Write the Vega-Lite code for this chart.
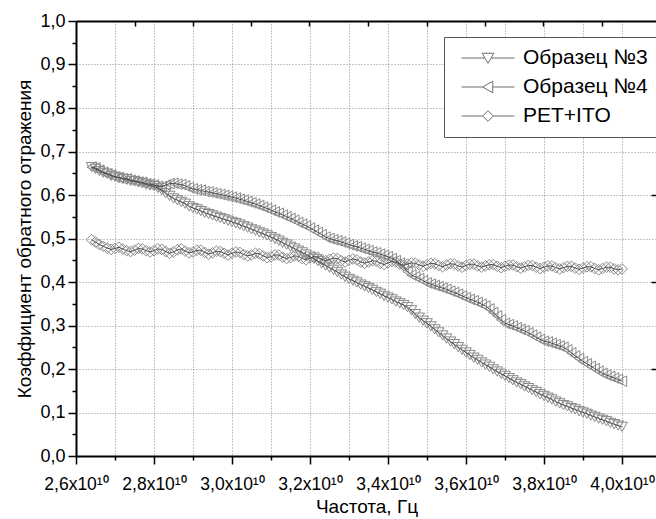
{
  "$schema": "https://vega.github.io/schema/vega-lite/v6.json",
  "autosize": {"type": "none"},
  "padding": {"left": 76, "top": 21, "right": 0, "bottom": 63},
  "width": 581,
  "height": 435,
  "config": {
    "view": {"stroke": null},
    "font": "Liberation Sans",
    "axis": {
      "labelFont": "Liberation Sans",
      "titleFont": "Liberation Sans",
      "labelColor": "black",
      "titleColor": "black",
      "titleFontWeight": "normal",
      "domainColor": "black",
      "tickColor": "black"
    }
  },
  "data": {
    "values": [
      {"f": 2.64e10, "Образец №3": 0.664, "Образец №4": 0.664, "PET+ITO": 0.497},
      {"f": 2.65e10, "Образец №3": 0.660, "Образец №4": 0.662, "PET+ITO": 0.492},
      {"f": 2.66e10, "Образец №3": 0.655, "Образец №4": 0.657, "PET+ITO": 0.486},
      {"f": 2.67e10, "Образец №3": 0.651, "Образец №4": 0.652, "PET+ITO": 0.482},
      {"f": 2.68e10, "Образец №3": 0.649, "Образец №4": 0.648, "PET+ITO": 0.478},
      {"f": 2.69e10, "Образец №3": 0.644, "Образец №4": 0.646, "PET+ITO": 0.475},
      {"f": 2.70e10, "Образец №3": 0.642, "Образец №4": 0.641, "PET+ITO": 0.477},
      {"f": 2.71e10, "Образец №3": 0.640, "Образец №4": 0.640, "PET+ITO": 0.480},
      {"f": 2.72e10, "Образец №3": 0.637, "Образец №4": 0.637, "PET+ITO": 0.476},
      {"f": 2.73e10, "Образец №3": 0.636, "Образец №4": 0.637, "PET+ITO": 0.472},
      {"f": 2.74e10, "Образец №3": 0.632, "Образец №4": 0.634, "PET+ITO": 0.470},
      {"f": 2.75e10, "Образец №3": 0.632, "Образец №4": 0.632, "PET+ITO": 0.473},
      {"f": 2.76e10, "Образец №3": 0.629, "Образец №4": 0.630, "PET+ITO": 0.477},
      {"f": 2.77e10, "Образец №3": 0.627, "Образец №4": 0.629, "PET+ITO": 0.476},
      {"f": 2.78e10, "Образец №3": 0.624, "Образец №4": 0.626, "PET+ITO": 0.472},
      {"f": 2.79e10, "Образец №3": 0.622, "Образец №4": 0.625, "PET+ITO": 0.469},
      {"f": 2.80e10, "Образец №3": 0.620, "Образец №4": 0.623, "PET+ITO": 0.472},
      {"f": 2.81e10, "Образец №3": 0.616, "Образец №4": 0.620, "PET+ITO": 0.476},
      {"f": 2.82e10, "Образец №3": 0.611, "Образец №4": 0.619, "PET+ITO": 0.475},
      {"f": 2.83e10, "Образец №3": 0.604, "Образец №4": 0.623, "PET+ITO": 0.470},
      {"f": 2.84e10, "Образец №3": 0.598, "Образец №4": 0.626, "PET+ITO": 0.466},
      {"f": 2.85e10, "Образец №3": 0.592, "Образец №4": 0.627, "PET+ITO": 0.469},
      {"f": 2.86e10, "Образец №3": 0.588, "Образец №4": 0.625, "PET+ITO": 0.474},
      {"f": 2.87e10, "Образец №3": 0.584, "Образец №4": 0.624, "PET+ITO": 0.476},
      {"f": 2.88e10, "Образец №3": 0.580, "Образец №4": 0.621, "PET+ITO": 0.471},
      {"f": 2.89e10, "Образец №3": 0.574, "Образец №4": 0.617, "PET+ITO": 0.467},
      {"f": 2.90e10, "Образец №3": 0.570, "Образец №4": 0.614, "PET+ITO": 0.469},
      {"f": 2.91e10, "Образец №3": 0.567, "Образец №4": 0.612, "PET+ITO": 0.473},
      {"f": 2.92e10, "Образец №3": 0.563, "Образец №4": 0.611, "PET+ITO": 0.473},
      {"f": 2.93e10, "Образец №3": 0.559, "Образец №4": 0.608, "PET+ITO": 0.468},
      {"f": 2.94e10, "Образец №3": 0.556, "Образец №4": 0.607, "PET+ITO": 0.464},
      {"f": 2.95e10, "Образец №3": 0.553, "Образец №4": 0.605, "PET+ITO": 0.467},
      {"f": 2.96e10, "Образец №3": 0.550, "Образец №4": 0.603, "PET+ITO": 0.471},
      {"f": 2.97e10, "Образец №3": 0.547, "Образец №4": 0.601, "PET+ITO": 0.470},
      {"f": 2.98e10, "Образец №3": 0.544, "Образец №4": 0.599, "PET+ITO": 0.466},
      {"f": 2.99e10, "Образец №3": 0.541, "Образец №4": 0.597, "PET+ITO": 0.462},
      {"f": 3.00e10, "Образец №3": 0.538, "Образец №4": 0.595, "PET+ITO": 0.466},
      {"f": 3.01e10, "Образец №3": 0.535, "Образец №4": 0.593, "PET+ITO": 0.469},
      {"f": 3.02e10, "Образец №3": 0.532, "Образец №4": 0.590, "PET+ITO": 0.468},
      {"f": 3.03e10, "Образец №3": 0.528, "Образец №4": 0.588, "PET+ITO": 0.463},
      {"f": 3.04e10, "Образец №3": 0.525, "Образец №4": 0.585, "PET+ITO": 0.460},
      {"f": 3.05e10, "Образец №3": 0.521, "Образец №4": 0.582, "PET+ITO": 0.462},
      {"f": 3.06e10, "Образец №3": 0.518, "Образец №4": 0.579, "PET+ITO": 0.466},
      {"f": 3.07e10, "Образец №3": 0.514, "Образец №4": 0.576, "PET+ITO": 0.465},
      {"f": 3.08e10, "Образец №3": 0.511, "Образец №4": 0.572, "PET+ITO": 0.460},
      {"f": 3.09e10, "Образец №3": 0.507, "Образец №4": 0.569, "PET+ITO": 0.456},
      {"f": 3.10e10, "Образец №3": 0.503, "Образец №4": 0.565, "PET+ITO": 0.458},
      {"f": 3.11e10, "Образец №3": 0.499, "Образец №4": 0.561, "PET+ITO": 0.462},
      {"f": 3.12e10, "Образец №3": 0.495, "Образец №4": 0.558, "PET+ITO": 0.462},
      {"f": 3.13e10, "Образец №3": 0.490, "Образец №4": 0.554, "PET+ITO": 0.457},
      {"f": 3.14e10, "Образец №3": 0.486, "Образец №4": 0.550, "PET+ITO": 0.454},
      {"f": 3.15e10, "Образец №3": 0.481, "Образец №4": 0.546, "PET+ITO": 0.456},
      {"f": 3.16e10, "Образец №3": 0.477, "Образец №4": 0.542, "PET+ITO": 0.460},
      {"f": 3.17e10, "Образец №3": 0.472, "Образец №4": 0.537, "PET+ITO": 0.459},
      {"f": 3.18e10, "Образец №3": 0.468, "Образец №4": 0.533, "PET+ITO": 0.454},
      {"f": 3.19e10, "Образец №3": 0.463, "Образец №4": 0.529, "PET+ITO": 0.451},
      {"f": 3.20e10, "Образец №3": 0.458, "Образец №4": 0.524, "PET+ITO": 0.455},
      {"f": 3.21e10, "Образец №3": 0.453, "Образец №4": 0.519, "PET+ITO": 0.458},
      {"f": 3.22e10, "Образец №3": 0.448, "Образец №4": 0.514, "PET+ITO": 0.457},
      {"f": 3.23e10, "Образец №3": 0.443, "Образец №4": 0.509, "PET+ITO": 0.452},
      {"f": 3.24e10, "Образец №3": 0.438, "Образец №4": 0.503, "PET+ITO": 0.449},
      {"f": 3.25e10, "Образец №3": 0.433, "Образец №4": 0.500, "PET+ITO": 0.452},
      {"f": 3.26e10, "Образец №3": 0.428, "Образец №4": 0.497, "PET+ITO": 0.455},
      {"f": 3.27e10, "Образец №3": 0.423, "Образец №4": 0.495, "PET+ITO": 0.454},
      {"f": 3.28e10, "Образец №3": 0.417, "Образец №4": 0.492, "PET+ITO": 0.449},
      {"f": 3.29e10, "Образец №3": 0.412, "Образец №4": 0.489, "PET+ITO": 0.446},
      {"f": 3.30e10, "Образец №3": 0.407, "Образец №4": 0.486, "PET+ITO": 0.450},
      {"f": 3.31e10, "Образец №3": 0.403, "Образец №4": 0.483, "PET+ITO": 0.453},
      {"f": 3.32e10, "Образец №3": 0.399, "Образец №4": 0.481, "PET+ITO": 0.451},
      {"f": 3.33e10, "Образец №3": 0.394, "Образец №4": 0.478, "PET+ITO": 0.446},
      {"f": 3.34e10, "Образец №3": 0.390, "Образец №4": 0.475, "PET+ITO": 0.443},
      {"f": 3.35e10, "Образец №3": 0.386, "Образец №4": 0.472, "PET+ITO": 0.446},
      {"f": 3.36e10, "Образец №3": 0.382, "Образец №4": 0.469, "PET+ITO": 0.449},
      {"f": 3.37e10, "Образец №3": 0.377, "Образец №4": 0.467, "PET+ITO": 0.448},
      {"f": 3.38e10, "Образец №3": 0.373, "Образец №4": 0.464, "PET+ITO": 0.443},
      {"f": 3.39e10, "Образец №3": 0.368, "Образец №4": 0.461, "PET+ITO": 0.440},
      {"f": 3.40e10, "Образец №3": 0.364, "Образец №4": 0.458, "PET+ITO": 0.444},
      {"f": 3.41e10, "Образец №3": 0.360, "Образец №4": 0.454, "PET+ITO": 0.447},
      {"f": 3.42e10, "Образец №3": 0.355, "Образец №4": 0.449, "PET+ITO": 0.446},
      {"f": 3.43e10, "Образец №3": 0.351, "Образец №4": 0.443, "PET+ITO": 0.441},
      {"f": 3.44e10, "Образец №3": 0.347, "Образец №4": 0.434, "PET+ITO": 0.438},
      {"f": 3.45e10, "Образец №3": 0.342, "Образец №4": 0.424, "PET+ITO": 0.441},
      {"f": 3.46e10, "Образец №3": 0.335, "Образец №4": 0.416, "PET+ITO": 0.444},
      {"f": 3.47e10, "Образец №3": 0.326, "Образец №4": 0.412, "PET+ITO": 0.443},
      {"f": 3.48e10, "Образец №3": 0.318, "Образец №4": 0.408, "PET+ITO": 0.439},
      {"f": 3.49e10, "Образец №3": 0.311, "Образец №4": 0.403, "PET+ITO": 0.436},
      {"f": 3.50e10, "Образец №3": 0.305, "Образец №4": 0.398, "PET+ITO": 0.440},
      {"f": 3.51e10, "Образец №3": 0.298, "Образец №4": 0.395, "PET+ITO": 0.443},
      {"f": 3.52e10, "Образец №3": 0.291, "Образец №4": 0.392, "PET+ITO": 0.442},
      {"f": 3.53e10, "Образец №3": 0.284, "Образец №4": 0.389, "PET+ITO": 0.438},
      {"f": 3.54e10, "Образец №3": 0.277, "Образец №4": 0.386, "PET+ITO": 0.435},
      {"f": 3.55e10, "Образец №3": 0.270, "Образец №4": 0.383, "PET+ITO": 0.439},
      {"f": 3.56e10, "Образец №3": 0.263, "Образец №4": 0.379, "PET+ITO": 0.442},
      {"f": 3.57e10, "Образец №3": 0.257, "Образец №4": 0.376, "PET+ITO": 0.441},
      {"f": 3.58e10, "Образец №3": 0.250, "Образец №4": 0.372, "PET+ITO": 0.437},
      {"f": 3.59e10, "Образец №3": 0.244, "Образец №4": 0.368, "PET+ITO": 0.434},
      {"f": 3.60e10, "Образец №3": 0.238, "Образец №4": 0.364, "PET+ITO": 0.438},
      {"f": 3.61e10, "Образец №3": 0.232, "Образец №4": 0.360, "PET+ITO": 0.441},
      {"f": 3.62e10, "Образец №3": 0.226, "Образец №4": 0.357, "PET+ITO": 0.441},
      {"f": 3.63e10, "Образец №3": 0.221, "Образец №4": 0.353, "PET+ITO": 0.437},
      {"f": 3.64e10, "Образец №3": 0.215, "Образец №4": 0.349, "PET+ITO": 0.434},
      {"f": 3.65e10, "Образец №3": 0.210, "Образец №4": 0.345, "PET+ITO": 0.437},
      {"f": 3.66e10, "Образец №3": 0.205, "Образец №4": 0.338, "PET+ITO": 0.440},
      {"f": 3.67e10, "Образец №3": 0.199, "Образец №4": 0.330, "PET+ITO": 0.440},
      {"f": 3.68e10, "Образец №3": 0.194, "Образец №4": 0.322, "PET+ITO": 0.436},
      {"f": 3.69e10, "Образец №3": 0.189, "Образец №4": 0.313, "PET+ITO": 0.433},
      {"f": 3.70e10, "Образец №3": 0.184, "Образец №4": 0.305, "PET+ITO": 0.436},
      {"f": 3.71e10, "Образец №3": 0.179, "Образец №4": 0.302, "PET+ITO": 0.439},
      {"f": 3.72e10, "Образец №3": 0.174, "Образец №4": 0.299, "PET+ITO": 0.439},
      {"f": 3.73e10, "Образец №3": 0.169, "Образец №4": 0.295, "PET+ITO": 0.435},
      {"f": 3.74e10, "Образец №3": 0.165, "Образец №4": 0.291, "PET+ITO": 0.432},
      {"f": 3.75e10, "Образец №3": 0.160, "Образец №4": 0.288, "PET+ITO": 0.435},
      {"f": 3.76e10, "Образец №3": 0.156, "Образец №4": 0.283, "PET+ITO": 0.438},
      {"f": 3.77e10, "Образец №3": 0.151, "Образец №4": 0.278, "PET+ITO": 0.438},
      {"f": 3.78e10, "Образец №3": 0.147, "Образец №4": 0.273, "PET+ITO": 0.434},
      {"f": 3.79e10, "Образец №3": 0.142, "Образец №4": 0.268, "PET+ITO": 0.431},
      {"f": 3.80e10, "Образец №3": 0.138, "Образец №4": 0.264, "PET+ITO": 0.434},
      {"f": 3.81e10, "Образец №3": 0.134, "Образец №4": 0.262, "PET+ITO": 0.437},
      {"f": 3.82e10, "Образец №3": 0.130, "Образец №4": 0.259, "PET+ITO": 0.437},
      {"f": 3.83e10, "Образец №3": 0.125, "Образец №4": 0.256, "PET+ITO": 0.433},
      {"f": 3.84e10, "Образец №3": 0.121, "Образец №4": 0.253, "PET+ITO": 0.430},
      {"f": 3.85e10, "Образец №3": 0.117, "Образец №4": 0.250, "PET+ITO": 0.433},
      {"f": 3.86e10, "Образец №3": 0.114, "Образец №4": 0.244, "PET+ITO": 0.436},
      {"f": 3.87e10, "Образец №3": 0.110, "Образец №4": 0.237, "PET+ITO": 0.436},
      {"f": 3.88e10, "Образец №3": 0.107, "Образец №4": 0.230, "PET+ITO": 0.432},
      {"f": 3.89e10, "Образец №3": 0.103, "Образец №4": 0.224, "PET+ITO": 0.429},
      {"f": 3.90e10, "Образец №3": 0.100, "Образец №4": 0.217, "PET+ITO": 0.432},
      {"f": 3.91e10, "Образец №3": 0.097, "Образец №4": 0.212, "PET+ITO": 0.435},
      {"f": 3.92e10, "Образец №3": 0.093, "Образец №4": 0.206, "PET+ITO": 0.435},
      {"f": 3.93e10, "Образец №3": 0.090, "Образец №4": 0.201, "PET+ITO": 0.431},
      {"f": 3.94e10, "Образец №3": 0.086, "Образец №4": 0.195, "PET+ITO": 0.428},
      {"f": 3.95e10, "Образец №3": 0.083, "Образец №4": 0.190, "PET+ITO": 0.431},
      {"f": 3.96e10, "Образец №3": 0.080, "Образец №4": 0.186, "PET+ITO": 0.434},
      {"f": 3.97e10, "Образец №3": 0.076, "Образец №4": 0.183, "PET+ITO": 0.434},
      {"f": 3.98e10, "Образец №3": 0.073, "Образец №4": 0.179, "PET+ITO": 0.430},
      {"f": 3.99e10, "Образец №3": 0.070, "Образец №4": 0.176, "PET+ITO": 0.428},
      {"f": 4.00e10, "Образец №3": 0.067, "Образец №4": 0.172, "PET+ITO": 0.430}
    ]
  },
  "transform": [
    {"fold": ["Образец №3", "Образец №4", "PET+ITO"], "as": ["series", "value"]}
  ],
  "layer": [
    {
      "mark": {"type": "point", "filled": false, "stroke": "#8a8a8a", "strokeWidth": 1, "size": 115, "opacity": 1},
      "encoding": {
        "x": {
          "field": "f", "type": "quantitative",
          "scale": {"domain": [2.6e10, 4.0897e10], "nice": false, "zero": false},
          "axis": {
            "orient": "bottom",
            "title": "Частота, Гц",
            "titleFontSize": 19,
            "titlePadding": 5,
            "values": [2.6e10, 2.7e10, 2.8e10, 2.9e10, 3.0e10, 3.1e10, 3.2e10, 3.3e10, 3.4e10, 3.5e10, 3.6e10, 3.7e10, 3.8e10, 3.9e10, 4.0e10],
            "labelExpr": "round(datum.value/1e9) % 2 == 0 ? replace(format(datum.value/1e10, '.1f'), '.', ',') + 'x10¹⁰' : ''",
            "labelFontSize": 17.5,
            "labelPadding": 11,
            "labelFlush": false,
            "labelOverlap": false,
            "tickSize": {"condition": {"test": "round(datum.value/1e9) % 2 == 0", "value": 8}, "value": 4},
            "tickWidth": 1.5,
            "domainWidth": 2,
            "grid": true,
            "gridColor": "#8c8c8c",
            "gridDash": [1, 2],
            "gridWidth": 1
          }
        },
        "y": {
          "field": "value", "type": "quantitative",
          "scale": {"domain": [0, 1], "nice": false},
          "axis": {
            "orient": "left",
            "title": "Коэффициент обратного отражения",
            "titleFontSize": 19,
            "titlePadding": 5,
            "values": [0, 0.05, 0.1, 0.15, 0.2, 0.25, 0.3, 0.35, 0.4, 0.45, 0.5, 0.55, 0.6, 0.65, 0.7, 0.75, 0.8, 0.85, 0.9, 0.95, 1.0],
            "labelExpr": "round(datum.value*100) % 10 == 0 ? replace(format(datum.value, '.1f'), '.', ',') : ''",
            "labelFontSize": 18,
            "labelPadding": 3,
            "labelFlush": false,
            "labelOverlap": false,
            "tickSize": {"condition": {"test": "round(datum.value*100) % 10 == 0", "value": 8}, "value": 4},
            "tickWidth": 1.5,
            "domainWidth": 2,
            "grid": true,
            "gridColor": "#8c8c8c",
            "gridDash": [1, 2],
            "gridWidth": 1,
            "gridOpacity": {"condition": {"test": "round(datum.value*100) % 10 == 0", "value": 1}, "value": 0}
          }
        },
        "shape": {
          "field": "series", "type": "nominal",
          "scale": {"domain": ["Образец №3", "Образец №4", "PET+ITO"], "range": ["triangle-down", "triangle-left", "diamond"]},
          "legend": null
        }
      }
    },
    {
      "mark": {"type": "line", "stroke": "#4a4a4a", "strokeWidth": 1},
      "encoding": {
        "x": {
          "field": "f", "type": "quantitative",
          "scale": {"domain": [2.6e10, 4.0897e10], "nice": false, "zero": false},
          "axis": {
            "orient": "top",
            "title": null,
            "labels": false,
            "grid": false,
            "values": [2.7513e10, 2.9e10, 3.0487e10, 3.1974e10, 3.3487e10, 3.5e10, 3.6487e10, 3.7974e10, 3.9487e10],
            "tickSize": -5,
            "tickWidth": 1.5,
            "domainWidth": 2
          }
        },
        "y": {
          "field": "value", "type": "quantitative",
          "scale": {"domain": [0, 1], "nice": false},
          "axis": {
            "orient": "right",
            "title": null,
            "labels": false,
            "grid": false,
            "values": [0.2, 0.4, 0.6, 0.8],
            "tickSize": -6,
            "tickWidth": 1.5,
            "domainWidth": 2
          }
        },
        "detail": {"field": "series", "type": "nominal"}
      }
    },
    {
      "mark": {"type": "point", "opacity": 0, "filled": false, "stroke": "#6e6e6e"},
      "encoding": {
        "shape": {
          "field": "series", "type": "nominal",
          "scale": {
            "domain": ["Образец №3", "Образец №4", "PET+ITO"],
            "range": [
              "M-1,0H-0.116M0.116,0H1M-0.22,-0.18H0.22L0,0.2Z",
              "M-1,0H-0.2M0.18,0H1M-0.2,0L0.18,-0.22V0.22Z",
              "M-1,0H-0.2M0.2,0H1M-0.2,0L0,-0.2L0.2,0L0,0.2Z"
            ]
          },
          "legend": {
            "title": null,
            "orient": "none",
            "legendX": 368,
            "legendY": 16,
            "padding": 8,
            "strokeColor": "#555555",
            "fillColor": "white",
            "clipHeight": 26,
            "rowPadding": 3,
            "symbolSize": 2809,
            "symbolOffset": 9,
            "symbolStrokeColor": "#6e6e6e",
            "symbolStrokeWidth": 1,
            "symbolFillColor": "white",
            "symbolOpacity": 1,
            "labelFont": "Liberation Sans",
            "labelFontSize": 21,
            "labelColor": "black",
            "labelOffset": 8,
            "labelLimit": 300
          }
        }
      }
    }
  ],
  "resolve": {
    "scale": {"shape": "independent"},
    "axis": {"x": "independent", "y": "independent"}
  }
}
